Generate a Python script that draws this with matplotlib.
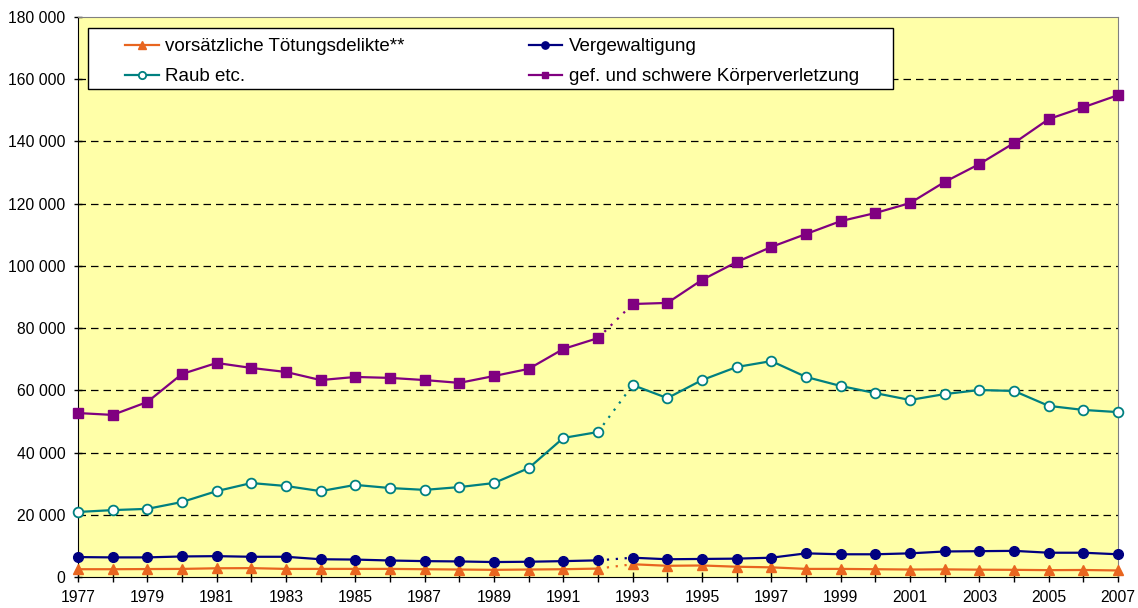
import matplotlib.pyplot as plt
from matplotlib.ticker import FuncFormatter, MultipleLocator
from matplotlib.patches import Rectangle

plt.rcParams['font.family'] = ['Liberation Sans', 'DejaVu Sans']

years = list(range(1977, 2008))

toetung = [2500, 2500, 2550, 2600, 2800, 2850, 2600, 2600, 2600, 2600, 2500, 2400, 2300, 2400, 2500, 2700,
           4100, 3600, 3700, 3300, 3100, 2600, 2600, 2500, 2400, 2450, 2350, 2300, 2200, 2250, 2100]
vergew = [6400, 6300, 6300, 6600, 6700, 6500, 6500, 5700, 5600, 5300, 5100, 5000, 4800, 4900, 5100, 5350,
          6200, 5700, 5800, 5900, 6200, 7600, 7300, 7300, 7600, 8200, 8300, 8400, 7800, 7800, 7300]
raub = [20900, 21500, 21900, 24100, 27600, 30200, 29250, 27600, 29600, 28600, 28000, 28900, 30200, 35000, 44700, 46600,
        61700, 57500, 63300, 67500, 69400, 64300, 61400, 59100, 56900, 58800, 60100, 59800, 55000, 53700, 53000]
koerper = [52700, 52100, 56250, 65250, 68800, 67200, 65900, 63300, 64300, 64000, 63300, 62400, 64600, 66900, 73300, 76800,
           87750, 88100, 95500, 101250, 106100, 110250, 114400, 117000, 120200, 127000, 132750, 139500, 147200, 151000, 154900]

labels = ['vorsätzliche Tötungsdelikte**', 'Raub etc.', 'Vergewaltigung', 'gef. und schwere Körperverletzung']

fig = plt.figure(figsize=(11.38, 6.08), dpi=100)
ax = fig.add_axes([0.0685, 0.051, 0.914, 0.921])
ax.set_facecolor('#FFFFA8')

series = [
    (toetung, '#E8651F', dict(marker='^', markersize=7, markerfacecolor='#E8651F', markeredgecolor='#E8651F')),
    (raub, '#008080', dict(marker='o', markersize=7, markerfacecolor='white', markeredgecolor='#008080', markeredgewidth=1.3)),
    (vergew, '#000080', dict(marker='o', markersize=7, markerfacecolor='#000080', markeredgecolor='#000080')),
    (koerper, '#800080', dict(marker='s', markersize=6.5, markerfacecolor='#800080', markeredgecolor='#800080')),
]

# 1992 -> 1993 gepunktet verbinden
split = years.index(1993)
handles = []
for (vals, col, mk), lab in zip(series, labels):
    h, = ax.plot(years[:split], vals[:split], color=col, lw=1.6, clip_on=False, zorder=3, label=lab, **mk)
    ax.plot(years[split:], vals[split:], color=col, lw=1.6, clip_on=False, zorder=3, **mk)
    ax.plot(years[split - 1:split + 1], vals[split - 1:split + 1], color=col, lw=1.6, ls=(0, (1, 3)), zorder=2)
    handles.append(h)

ax.set_xlim(1977, 2007)
ax.set_ylim(0, 180000)
ax.set_xticks(range(1977, 2008, 2))
ax.xaxis.set_minor_locator(MultipleLocator(1))
ax.yaxis.set_major_locator(MultipleLocator(20000))
ax.yaxis.set_major_formatter(FuncFormatter(lambda v, p: '{:,.0f}'.format(v).replace(',', ' ')))
ax.tick_params(axis='both', labelsize=11.3)
ax.tick_params(axis='x', which='both', direction='inout', length=7, width=1, pad=6)
ax.tick_params(axis='y', direction='inout', length=6, width=1, pad=6)

for yv in range(20000, 180000, 20000):
    ax.axhline(yv, color='black', lw=0.9, ls=(0, (6, 4)), zorder=1)

ax.spines['left'].set_color('black')
ax.spines['bottom'].set_color('black')
ax.spines['top'].set_color('#808080')
ax.spines['right'].set_color('#808080')

# Legendenkasten
ax.add_patch(Rectangle((0.0096, 0.871), 0.7741, 0.109, transform=ax.transAxes,
                       facecolor='white', edgecolor='black', lw=1, zorder=5))
leg = ax.legend(handles=handles, ncol=2, loc='upper left', bbox_to_anchor=(0.0452, 0.9626),
                fontsize=13.5, frameon=False, handlelength=1.8, handletextpad=0.35, columnspacing=6.6,
                borderaxespad=0, borderpad=0, labelspacing=0.7, markerscale=0.75)
leg.set_zorder(6)

fig.savefig('out.png', dpi=100)
